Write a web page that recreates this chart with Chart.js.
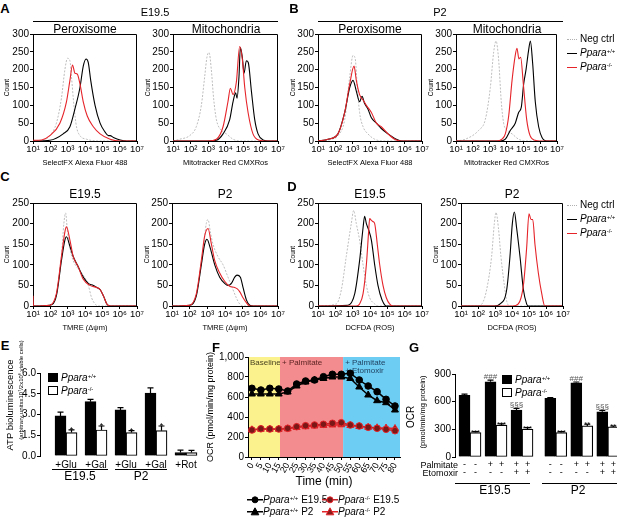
<!DOCTYPE html>
<html>
<head>
<meta charset="utf-8">
<script src="https://cdn.jsdelivr.net/npm/chart.js@4/dist/chart.umd.min.js"></script>
<style>
  body { margin: 0; background: #fff; font-family: "Liberation Sans", Arial, sans-serif; }
  #fig { position: relative; width: 617px; height: 519px; overflow: hidden; background: #fff; }
  #fig canvas { position: absolute; }
  .t { position: absolute; white-space: nowrap; color: #000; line-height: 1; }
  .t sup { font-size: 0.6em; vertical-align: 0.55em; line-height: 0; }
  .ln { position: absolute; height: 0; border-top: 1px solid #000; }
</style>
</head>
<body>
<div id="fig"></div>
<script>
// ---------- data ----------
// flow cytometry histograms: [log10 intensity, count]
const aPerNeg = [[1,0],[1.5,1],[1.97,15],[2.35,50],[2.64,120],[2.84,200],[2.99,232],[3.13,225],[3.22,180],[3.36,100],[3.51,40],[3.71,15],[4.09,5],[4.8,0],[7,0]];
const aPerWt = [[1,0],[1.97,2],[2.74,20],[3.13,40],[3.42,90],[3.71,150],[3.9,210],[4.06,230],[4.19,220],[4.33,170],[4.58,100],[4.87,50],[5.16,25],[5.35,15],[5.45,15],[5.64,10],[6.03,3],[6.42,0],[7,0]];
const aPerKo = [[1,2],[1.5,3],[1.97,15],[2.55,50],[2.93,110],[3.13,170],[3.28,213],[3.42,190],[3.55,188],[3.71,160],[3.9,110],[4.13,70],[4.48,40],[4.87,20],[5.45,5],[6,0],[7,0]];

const aMitNeg = [[1,0],[1.38,5],[1.95,15],[2.33,40],[2.62,100],[2.81,180],[2.94,235],[3.06,248],[3.19,200],[3.32,120],[3.48,60],[3.76,30],[4.05,20],[4.43,5],[4.81,0],[7,0]];
const aMitWt = [[1,0],[3.0,0],[3.48,2],[3.86,20],[4.24,60],[4.43,110],[4.58,135],[4.66,120],[4.77,180],[4.85,262],[4.96,235],[5.06,190],[5.19,225],[5.3,220],[5.48,140],[5.67,60],[5.86,20],[6.14,3],[6.5,0],[7,0]];
const aMitKo = [[1,0],[3.0,0],[3.48,5],[3.86,40],[4.14,110],[4.28,148],[4.43,130],[4.62,165],[4.81,265],[4.96,230],[5.1,150],[5.29,80],[5.57,20],[5.95,2],[6.3,0],[7,0]];

const bPerNeg = [[1,0],[1.77,5],[2.15,15],[2.54,60],[2.83,180],[3.02,240],[3.15,230],[3.27,150],[3.4,80],[3.6,40],[3.88,20],[4.27,5],[4.8,0],[7,0]];
const bPerWt = [[1,0],[1.58,5],[2.15,20],[2.54,80],[2.83,150],[3.02,170],[3.21,140],[3.4,110],[3.54,125],[3.69,105],[3.88,90],[4.08,65],[4.37,50],[4.65,35],[5.04,20],[5.52,5],[5.81,0],[7,0]];
const bPerKo = [[1,0],[1.58,5],[2.15,20],[2.54,80],[2.83,160],[3.08,210],[3.21,170],[3.4,130],[3.6,115],[3.79,100],[4.08,80],[4.37,50],[4.65,40],[5.04,20],[5.42,5],[5.8,0],[7,0]];

const bMitNeg = [[1,0],[1.55,5],[2.35,30],[2.74,60],[3.04,150],[3.24,250],[3.38,280],[3.53,230],[3.69,110],[3.83,50],[4.03,30],[4.33,20],[4.72,5],[5.12,0],[7,0]];
const bMitWt = [[1,0],[3.6,0],[3.93,5],[4.23,30],[4.52,50],[4.72,80],[4.88,95],[5.02,160],[5.16,200],[5.3,250],[5.42,280],[5.55,220],[5.71,110],[5.91,40],[6.11,10],[6.41,0],[7,0]];
const bMitKo = [[1,0],[3.4,0],[3.73,5],[3.93,20],[4.13,70],[4.33,170],[4.52,240],[4.62,260],[4.74,230],[4.84,235],[5.0,160],[5.2,60],[5.4,15],[5.7,2],[6,0],[7,0]];

const cE19Neg = [[1,0],[1.97,2],[2.35,30],[2.64,120],[2.78,200],[2.88,226],[2.99,180],[3.13,140],[3.32,110],[3.61,90],[3.9,75],[4.19,50],[4.38,20],[4.58,5],[4.77,0],[7,0]];
const cE19Wt = [[1,0],[1.97,2],[2.35,25],[2.64,110],[2.84,160],[2.93,168],[3.13,145],[3.32,120],[3.61,95],[3.9,70],[4.19,55],[4.48,50],[4.68,45],[4.87,40],[5.06,25],[5.26,5],[5.45,0],[7,0]];
const cE19Ko = [[1,25],[1.03,0],[1.97,2],[2.35,30],[2.64,120],[2.84,180],[2.93,192],[3.13,160],[3.32,120],[3.61,95],[3.9,65],[4.29,50],[4.68,45],[4.87,40],[5.06,25],[5.26,5],[5.45,0],[7,0]];

const cP2Neg = [[1,0],[2.0,2],[2.38,30],[2.75,130],[2.94,200],[3.04,210],[3.17,180],[3.32,150],[3.6,120],[3.89,100],[4.17,70],[4.45,40],[4.64,20],[4.83,5],[5.02,0],[7,0]];
const cP2Wt = [[1,0],[2.0,2],[2.38,25],[2.66,100],[2.85,150],[2.98,162],[3.17,140],[3.42,100],[3.7,70],[3.98,55],[4.17,50],[4.36,55],[4.55,70],[4.68,75],[4.87,70],[5.02,45],[5.21,15],[5.4,2],[5.6,0],[7,0]];
const cP2Ko = [[1,0],[2.0,2],[2.38,30],[2.66,110],[2.85,170],[3.04,188],[3.23,150],[3.42,110],[3.7,80],[3.98,60],[4.26,48],[4.55,45],[4.68,42],[4.83,35],[5.02,20],[5.21,8],[5.4,0],[7,0]];

const dE19Neg = [[1,0],[2.06,5],[2.35,40],[2.63,120],[2.92,200],[3.06,232],[3.21,200],[3.4,160],[3.6,100],[3.79,50],[3.98,20],[4.27,5],[4.46,0],[7,0]];
const dE19Wt = [[1,55],[1.03,0],[2.73,2],[3.12,30],[3.4,110],[3.6,190],[3.69,218],[3.79,200],[3.92,185],[4.08,160],[4.27,100],[4.46,50],[4.69,15],[4.94,0],[7,0]];
const dE19Ko = [[1,0],[3.2,0],[3.4,5],[3.6,30],[3.79,100],[3.92,180],[3.98,212],[4.08,208],[4.17,205],[4.27,200],[4.42,150],[4.56,100],[4.75,50],[4.94,20],[5.13,5],[5.33,0],[7,0]];

const dP2Neg = [[1,0],[2.02,0],[2.3,10],[2.51,40],[2.8,120],[2.96,200],[3.06,227],[3.2,190],[3.35,120],[3.55,50],[3.7,10],[3.9,0],[7,0]];
const dP2Wt = [[1,0],[2.97,0],[3.3,5],[3.69,40],[3.88,120],[4.02,200],[4.14,228],[4.27,190],[4.47,120],[4.67,40],[4.86,5],[4.95,0],[7,0]];
const dP2Ko = [[1,0],[4.03,0],[4.37,5],[4.67,50],[4.86,140],[5.0,224],[5.12,210],[5.22,210],[5.35,150],[5.55,80],[5.75,30],[5.93,0],[7,0]];

const histNames = ['Neg ctrl', 'Ppara+/+', 'Ppara-/-'];
const decades = [1, 2, 3, 4, 5, 6, 7];

// E: ATP bioluminescence
const eCats = ['+Glu', '+Gal', '+Glu', '+Gal', '+Rot'];
const eWt = [2.9, 3.93, 3.33, 4.55, 0.25];
const eWtErr = [0.27, 0.17, 0.16, 0.37, 0.18];
const eKo = [1.69, 1.88, 1.69, 1.83, 0.25];
const eKoErr = [0.2, 0.29, 0.14, 0.34, 0.15];
const eKoSig = ['*', '*', '*', '*', ''];

// F: OCR time course
const fTime = [0, 5, 10, 15, 20, 25, 30, 35, 40, 45, 50, 55, 60, 65, 70, 75, 80];
const fWtE19 = [687, 670, 687, 680, 660, 730, 760, 770, 803, 827, 827, 837, 770, 710, 653, 577, 510];
const fWtP2 = [630, 630, 630, 630, 650, 710, 750, 770, 785, 800, 800, 785, 700, 620, 563, 543, 470];
const fKoE19 = [270, 282, 280, 280, 287, 303, 313, 320, 327, 337, 343, 320, 310, 297, 287, 277, 263];
const fKoP2 = [272, 278, 278, 278, 282, 295, 303, 310, 315, 320, 322, 315, 305, 297, 292, 290, 285];
const fPhaseEdges = [15.7, 51];
const fPhaseLabels = [['Baseline'], ['+ Palmitate'], ['+ Palmitate', '+ Etomoxir']];

// G: OCR bars
const gWt = [670, 816, 508, 635, 805, 490];
const gWtErr = [12, 18, 20, 10, 8, 15];
const gKo = [265, 345, 301, 265, 337, 326];
const gKoErr = [10, 15, 18, 10, 18, 10];
const gWtSig = ['', '###', '§§§', '', '###', '§§§'];
const gKoSig = ['***', '***', '***', '***', '**', '**'];
const gPalm = ['-', '+', '+', '-', '+', '+'];
const gEto = ['-', '-', '+', '-', '-', '+'];

// ---------- helpers ----------
Chart.defaults.font.family = '"Liberation Sans", Arial, sans-serif';
Chart.defaults.color = '#000';
Chart.defaults.animation = false;
Chart.defaults.responsive = false;
Chart.defaults.plugins.legend.display = false;
Chart.defaults.plugins.tooltip.enabled = false;

const fig = document.getElementById('fig');
const sup = ['⁰', '¹', '²', '³', '⁴', '⁵', '⁶', '⁷'];
const RED = '#e5242a';

function place(left, top, w, h) {
  const c = document.createElement('canvas');
  c.width = w; c.height = h;
  c.style.left = left + 'px'; c.style.top = top + 'px';
  c.style.width = w + 'px'; c.style.height = h + 'px';
  fig.appendChild(c);
  return c;
}

function label(s, x, y, size, o = {}) {
  const d = document.createElement('div');
  d.className = 't';
  d.innerHTML = s;
  d.style.left = x + 'px';
  d.style.top = y + 'px';
  d.style.fontSize = size + 'px';
  const ax = o.align === 'left' ? '0' : o.align === 'right' ? '-100%' : '-50%';
  d.style.transform = `translate(${ax},-50%)` + (o.rot ? ` rotate(${o.rot}deg)` : '');
  if (o.bold) d.style.fontWeight = 'bold';
  fig.appendChild(d);
  return d;
}

function hline(x1, x2, y) {
  const d = document.createElement('div');
  d.className = 'ln';
  d.style.left = x1 + 'px'; d.style.top = y + 'px'; d.style.width = (x2 - x1) + 'px';
  fig.appendChild(d);
}

function box(x, y, filled) {
  const d = document.createElement('div');
  d.style.cssText = `position:absolute;left:${x}px;top:${y}px;width:8px;height:7px;border:1px solid #000;background:${filled ? '#000' : '#fff'};`;
  fig.appendChild(d);
}

const wt = '<i>Ppara</i><sup>+/+</sup>';
const ko = '<i>Ppara</i><sup>-/-</sup>';

// top and right border of the histogram boxes
const frame = {
  id: 'frame',
  afterDraw(c) {
    const a = c.chartArea, ctx = c.ctx;
    ctx.save();
    ctx.strokeStyle = '#000'; ctx.lineWidth = 1;
    ctx.beginPath();
    ctx.moveTo(a.left, a.top + 0.5); ctx.lineTo(a.right - 0.5, a.top + 0.5); ctx.lineTo(a.right - 0.5, a.bottom);
    ctx.stroke();
    ctx.restore();
  }
};

const axisGrid = { drawOnChartArea: false, tickLength: 3, color: '#000' };

function hist(plot, countX, yMax, curves, xTitle) {
  const [l, t, r, b] = plot;
  const padT = 8, padR = 12, hx = 26;
  const cl = Math.round(countX - 3.9), ct = t - padT;
  const wy = l - cl;
  const colors = ['#bdbdbd', '#000', RED];
  return new Chart(place(cl, ct, r - cl + padR, b - ct + hx), {
    type: 'line',
    data: {
      datasets: curves.map((pts, i) => ({
        label: histNames[i],
        data: pts.map(p => ({ x: p[0], y: p[1] })),
        borderColor: colors[i],
        borderWidth: i === 0 ? 1 : 1.1,
        borderDash: i === 0 ? [2, 1.5] : [],
        order: 3 - i,
        pointRadius: 0,
        tension: 0.3,
        cubicInterpolationMode: 'monotone'
      }))
    },
    options: {
      devicePixelRatio: 1,
      layout: { padding: { top: padT, right: padR, left: 0, bottom: 0 } },
      scales: {
        x: {
          type: 'linear', min: 1, max: 7,
          afterBuildTicks: s => { s.ticks = decades.map(v => ({ value: v })); },
          afterFit: s => { s.height = hx; },
          ticks: { callback: v => '10' + sup[v], font: { size: 9.5 }, padding: 0, maxRotation: 0, minRotation: 0, autoSkip: false },
          grid: axisGrid,
          border: { color: '#000' },
          title: { display: true, text: xTitle, font: { size: 7.5 }, padding: 0 }
        },
        y: {
          type: 'linear', min: 0, max: yMax,
          afterFit: s => { s.width = wy; },
          ticks: { stepSize: 50, font: { size: 10 }, padding: 1 },
          grid: axisGrid,
          border: { color: '#000' },
          title: { display: true, text: 'Count', font: { size: 6.5 }, padding: 0 }
        }
      }
    },
    plugins: [frame]
  });
}

// error bars and significance marks for bar charts
const errBars = {
  id: 'errBars',
  afterDatasetsDraw(chart) {
    const ctx = chart.ctx, ys = chart.scales.y;
    chart.data.datasets.forEach((ds, di) => {
      const meta = chart.getDatasetMeta(di);
      meta.data.forEach((bar, i) => {
        const v = ds.data[i].y, e = ds.errs ? ds.errs[i] : 0;
        const top = ys.getPixelForValue(v + e);
        ctx.save();
        ctx.strokeStyle = '#000'; ctx.lineWidth = 1.2;
        ctx.beginPath();
        ctx.moveTo(bar.x, bar.y); ctx.lineTo(bar.x, top);
        ctx.moveTo(bar.x - 3, top); ctx.lineTo(bar.x + 3, top);
        ctx.stroke();
        const s = ds.sig ? ds.sig[i] : '';
        if (s) {
          ctx.fillStyle = ds.sigColor || '#000';
          ctx.font = (ds.sigSize || 9) + 'px "Liberation Sans", Arial, sans-serif';
          ctx.textAlign = 'center';
          ctx.textBaseline = 'alphabetic';
          ctx.fillText(s, bar.x, /^\*+$/.test(s) ? top + 3 : top - 1.5);
        }
        ctx.restore();
      });
    });
  }
};

// shaded phases of panel F
const bandFill = ['#fbf28e', '#f28c8e', '#6dcdf2'];
const bandInk = ['#4a4420', '#5e2424', '#1e3e5e'];
const bands = {
  id: 'bands',
  beforeDraw(chart) {
    const { ctx, chartArea: a, scales: { x } } = chart;
    const edges = [x.min, ...fPhaseEdges, x.max];
    ctx.save();
    fPhaseLabels.forEach((lines, i) => {
      const x0 = x.getPixelForValue(edges[i]), x1 = x.getPixelForValue(edges[i + 1]);
      ctx.fillStyle = bandFill[i];
      ctx.fillRect(x0, a.top, x1 - x0, a.bottom - a.top);
      ctx.fillStyle = bandInk[i];
      ctx.font = '8px "Liberation Sans", Arial, sans-serif';
      ctx.textBaseline = 'top';
      lines.forEach((s, j) => ctx.fillText(s, x0 + 2, a.top + 2 + j * 8));
    });
    ctx.restore();
  }
};

function fSeries(name, vals, line, fill, edge, shape) {
  return {
    label: name, data: vals.map((v, i) => ({ x: fTime[i], y: v })),
    borderColor: line, borderWidth: 1.5,
    pointStyle: shape, pointRadius: shape === 'triangle' ? 4 : 3.3,
    pointBackgroundColor: fill, pointBorderColor: edge, pointBorderWidth: 1
  };
}

// ---------- charts ----------
hist([33, 34, 137, 141], 6.7, 300, [aPerNeg, aPerWt, aPerKo], 'SelectFX Alexa Fluor 488');
hist([173, 34, 278, 141], 148, 300, [aMitNeg, aMitWt, aMitKo], 'Mitotracker Red CMXRos');
hist([318, 34, 422, 141], 293, 300, [bPerNeg, bPerWt, bPerKo], 'SelectFX Alexa Fluor 488');
hist([456, 34, 557, 141], 431, 300, [bMitNeg, bMitWt, bMitKo], 'Mitotracker Red CMXRos');
hist([33, 203, 137, 306], 6.7, 250, [cE19Neg, cE19Wt, cE19Ko], 'TMRE (Δψm)');
hist([172, 203, 278, 306], 147, 250, [cP2Neg, cP2Wt, cP2Ko], 'TMRE (Δψm)');
hist([318, 203, 422, 306], 293, 250, [dE19Neg, dE19Wt, dE19Ko], 'DCFDA (ROS)');
hist([461, 203, 563, 306], 436, 250, [dP2Neg, dP2Wt, dP2Ko], 'DCFDA (ROS)');

new Chart(place(15, 365, 208, 105), {
  type: 'bar',
  data: {
    datasets: [
      { label: 'Ppara+/+', data: eWt.map((v, i) => ({ x: i + 1, y: v })), errs: eWtErr,
        backgroundColor: '#000', borderColor: '#000', borderWidth: 1, barThickness: 11 },
      { label: 'Ppara-/-', data: eKo.map((v, i) => ({ x: i + 1, y: v })), errs: eKoErr, sig: eKoSig, sigSize: 9,
        backgroundColor: '#fff', borderColor: '#000', borderWidth: 1.2, borderSkipped: false, barThickness: 11 }
    ]
  },
  options: {
    devicePixelRatio: 1,
    layout: { padding: { top: 8, right: 20, left: 0, bottom: 0 } },
    scales: {
      x: {
        type: 'linear', offset: false, min: 0.133, max: 5.567,
        afterBuildTicks: s => { s.ticks = eCats.map((c, i) => ({ value: i + 1 })); },
        afterFit: s => { s.height = 14; },
        ticks: { callback: (v, i) => eCats[i], font: { size: 10 }, padding: 3, maxRotation: 0, minRotation: 0, autoSkip: false },
        grid: { display: false, drawTicks: false, offset: false },
        border: { display: false }
      },
      y: {
        type: 'linear', min: 0, max: 6,
        afterFit: s => { s.width = 25; },
        ticks: { stepSize: 1.5, callback: v => v.toFixed(1), font: { size: 10 }, padding: 1 },
        grid: axisGrid,
        border: { color: '#000' }
      }
    }
  },
  plugins: [errBars]
});

new Chart(place(205, 349, 205, 140), {
  type: 'line',
  data: {
    datasets: [
      fSeries('Ppara+/+ E19.5', fWtE19, '#000', '#000', '#000', 'circle'),
      fSeries('Ppara+/+ P2', fWtP2, '#000', '#000', '#000', 'triangle'),
      fSeries('Ppara-/- E19.5', fKoE19, '#c0262b', '#7a1818', RED, 'circle'),
      fSeries('Ppara-/- P2', fKoP2, RED, '#8a1a1a', RED, 'triangle')
    ]
  },
  options: {
    devicePixelRatio: 1,
    layout: { padding: { top: 8, right: 10, left: 0, bottom: 0 } },
    scales: {
      x: {
        type: 'linear', min: -2.2, max: 82.8,
        afterBuildTicks: s => { s.ticks = fTime.map(v => ({ value: v })); },
        afterFit: s => { s.height = 32; },
        ticks: { font: { size: 9 }, padding: 1, minRotation: 60, maxRotation: 60, autoSkip: false },
        grid: axisGrid,
        border: { color: '#000' },
        title: { display: true, text: 'Time (min)', font: { size: 12 }, padding: 0 }
      },
      y: {
        min: 0, max: 1000,
        ticks: { stepSize: 200, font: { size: 10 }, padding: 1 },
        afterFit: s => { s.width = 43; },
        grid: axisGrid,
        border: { color: '#000' },
        title: { display: true, text: 'OCR (pmol/min/mg protein)', font: { size: 9 }, padding: 0 }
      }
    }
  },
  plugins: [bands]
});

const gPairX = gWt.map((v, i) => Math.floor(i / 3) * 3.3 + (i % 3));
const gHalf = 0.212;
new Chart(place(433, 366, 209, 115), {
  type: 'bar',
  data: {
    datasets: [
      { label: 'Ppara+/+', data: gWt.map((v, i) => ({ x: gPairX[i], y: v })), errs: gWtErr, sig: gWtSig, sigColor: '#555', sigSize: 8,
        backgroundColor: '#000', borderColor: '#000', borderWidth: 1, barThickness: 11 },
      { label: 'Ppara-/-', data: gKo.map((v, i) => ({ x: gPairX[i], y: v })), errs: gKoErr, sig: gKoSig, sigSize: 8,
        backgroundColor: '#fff', borderColor: '#000', borderWidth: 1.2, borderSkipped: false, barThickness: 11 }
    ]
  },
  options: {
    devicePixelRatio: 1,
    layout: { padding: { top: 8, right: 25, left: 0, bottom: 0 } },
    scales: {
      x: {
        type: 'linear', offset: false, min: -0.577, max: 5.654,
        afterBuildTicks: s => { s.ticks = gPairX.flatMap(p => [{ value: p - gHalf }, { value: p + gHalf }]); },
        afterFit: s => { s.height = 24; },
        ticks: {
          callback: (v, i) => [gPalm[Math.floor(i / 2)], gEto[Math.floor(i / 2)]],
          font: { size: 9, lineHeight: 0.95 }, padding: 3, maxRotation: 0, minRotation: 0, autoSkip: false
        },
        grid: { display: false, drawTicks: false, offset: false },
        border: { display: false }
      },
      y: {
        type: 'linear', min: 0, max: 900,
        afterFit: s => { s.width = 22; },
        ticks: { stepSize: 300, font: { size: 10 }, padding: 1 },
        grid: axisGrid,
        border: { color: '#000' }
      }
    }
  },
  plugins: [errBars]
});

// ---------- titles, legends, group bars ----------
label('A', 5, 8, 13, { bold: true });
label('B', 294, 8, 13, { bold: true });
label('E19.5', 155, 12, 11);
hline(33, 278, 21);
label('P2', 440, 12, 11);
hline(318, 563, 21);
label('Peroxisome', 85, 29, 12);
label('Mitochondria', 226, 29, 12);
label('Peroxisome', 370, 29, 12);
label('Mitochondria', 507, 29, 12);

label('C', 5, 176, 13, { bold: true });
label('D', 292, 186, 13, { bold: true });
label('E19.5', 85, 194, 12);
label('P2', 225, 194, 12);
label('E19.5', 370, 194, 12);
label('P2', 512, 194, 12);

function histLegend(x, y) {
  const rows = [['Neg ctrl', '1.5px dotted #b0b0b0'], [wt, '1.5px solid #000'], [ko, '1.5px solid ' + RED]];
  rows.forEach((row, i) => {
    const d = document.createElement('div');
    d.className = 'ln';
    d.style.left = x + 'px'; d.style.top = (y + i * 14) + 'px'; d.style.width = '10px';
    d.style.borderTop = row[1];
    fig.appendChild(d);
    label(row[0], x + 13, y + i * 14, 10, { align: 'left' });
  });
}
histLegend(567, 39);
histLegend(567, 205);

label('E', 5, 345, 13, { bold: true });
label('ATP bioluminescence', 10, 405, 9.5, { rot: -90 });
label('(arbitrary unitsx10<sup>7</sup>/2x10<sup>6</sup> viable cells)', 20.5, 390, 6, { rot: -90 });
box(48, 373, true);
box(48, 386, false);
label(wt, 61, 378, 10, { align: 'left' });
label(ko, 61, 391, 10, { align: 'left' });
hline(52, 108, 469);
hline(115, 167, 469);
label('E19.5', 80, 476, 12);
label('P2', 141, 476, 12);

label('F', 216, 347, 13, { bold: true });
function marker(shape, line, fill, edge) {
  const m = shape === 'c'
    ? `<circle cx="8" cy="5" r="3" fill="${fill}" stroke="${edge}"/>`
    : `<polygon points="8,1 11.8,8 4.2,8" fill="${fill}" stroke="${edge}"/>`;
  return `<svg width="16" height="10" style="vertical-align:middle"><line x1="0" y1="5" x2="16" y2="5" stroke="${line}" stroke-width="1.5"/>${m}</svg>`;
}
label(marker('c', '#000', '#000', '#000') + wt + ' E19.5', 247, 500, 10, { align: 'left' });
label(marker('c', '#c0262b', '#7a1818', RED) + ko + ' E19.5', 322, 500, 10, { align: 'left' });
label(marker('t', '#000', '#000', '#000') + wt + ' P2', 247, 512, 10, { align: 'left' });
label(marker('t', RED, '#8a1a1a', RED) + ko + ' P2', 322, 512, 10, { align: 'left' });

label('G', 414, 347, 13, { bold: true });
label('OCR', 411, 417, 10, { rot: -90 });
label('(pmol/min/mg protein)', 423, 412, 7.5, { rot: -90 });
box(502, 375, true);
box(502, 388, false);
label(wt, 515, 380, 10, { align: 'left' });
label(ko, 515, 393, 10, { align: 'left' });
label('Palmitate', 458, 465, 9, { align: 'right' });
label('Etomoxir', 458, 473, 9, { align: 'right' });
hline(455, 530, 483);
hline(542, 617, 483);
label('E19.5', 495, 490, 12);
label('P2', 578, 490, 12);
</script>
</body>
</html>
